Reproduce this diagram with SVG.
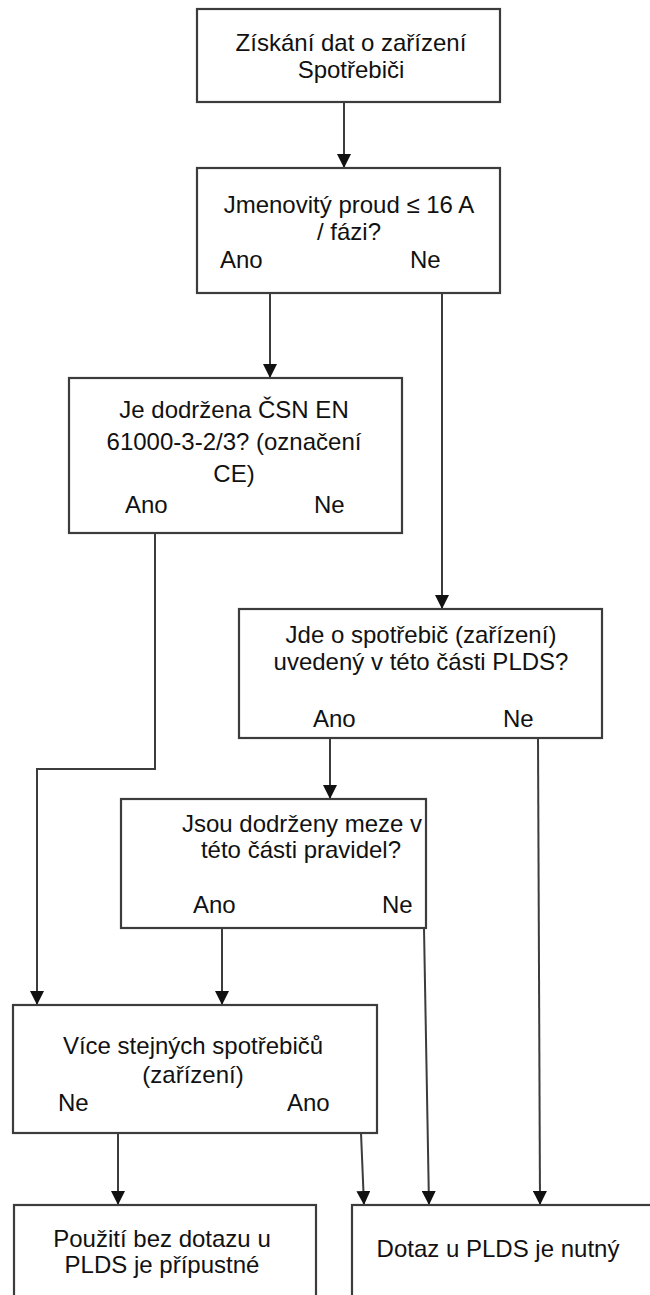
<svg xmlns="http://www.w3.org/2000/svg" width="650" height="1295" viewBox="0 0 650 1295">
<defs>
<marker id="ah" markerUnits="userSpaceOnUse" markerWidth="14" markerHeight="14" viewBox="0 0 14 14" refX="14" refY="7" orient="auto">
<path d="M0,0 L14,7 L0,14 z" fill="#111"/>
</marker>
<style>
.box{fill:#fff;stroke:#3c3c3c;stroke-width:2.2}
.t{font-family:"Liberation Sans",Arial,sans-serif;font-size:24px;fill:#111}
.c{text-anchor:middle}
.ln{fill:none;stroke:#3c3c3c;stroke-width:2;marker-end:url(#ah)}
</style>
</defs>
<rect width="650" height="1295" fill="#fff"/>
<g id="connectors">
<path class="ln" d="M344,102 L344,168"/>
<path class="ln" d="M270,293 L270,378"/>
<path class="ln" d="M442,293 L442,609"/>
<path class="ln" d="M155,533 L155,769 L37,769 L37,1005"/>
<path class="ln" d="M330,738 L330,799"/>
<path class="ln" d="M538,738 L540,1205"/>
<path class="ln" d="M222,928 L222,1005"/>
<path class="ln" d="M424,928 L429,1205"/>
<path class="ln" d="M118,1133 L118,1205"/>
<path class="ln" d="M361,1133 L364,1205"/>
</g>
<g id="n1">
<rect class="box" x="197" y="9" width="303" height="93"/>
<text class="t c" x="351" y="51">Získání dat o zařízení</text>
<text class="t c" x="351" y="78">Spotřebiči</text>
</g>
<g id="n2">
<rect class="box" x="197" y="168" width="303" height="125"/>
<text class="t c" x="349" y="213">Jmenovitý proud ≤ 16 A</text>
<text class="t c" x="349" y="240">/ fázi?</text>
<text class="t" x="220" y="268">Ano</text>
<text class="t" x="410" y="268">Ne</text>
</g>
<g id="n3">
<rect class="box" x="69" y="378" width="333" height="155"/>
<text class="t c" x="234" y="418">Je dodržena ČSN EN</text>
<text class="t c" x="234" y="450">61000-3-2/3? (označení</text>
<text class="t c" x="234" y="482">CE)</text>
<text class="t" x="125" y="513">Ano</text>
<text class="t" x="314" y="513">Ne</text>
</g>
<g id="n4">
<rect class="box" x="239" y="609" width="363" height="129"/>
<text class="t c" x="421" y="643">Jde o spotřebič (zařízení)</text>
<text class="t c" x="421" y="670">uvedený v této části PLDS?</text>
<text class="t" x="313" y="727">Ano</text>
<text class="t" x="503" y="727">Ne</text>
</g>
<g id="n5">
<rect class="box" x="121" y="799" width="305" height="129"/>
<text class="t c" x="302" y="832">Jsou dodrženy meze v</text>
<text class="t c" x="301" y="858">této části pravidel?</text>
<text class="t" x="193" y="913">Ano</text>
<text class="t" x="382" y="913">Ne</text>
</g>
<g id="n6">
<rect class="box" x="13" y="1005" width="364" height="128"/>
<text class="t c" x="193" y="1054">Více stejných spotřebičů</text>
<text class="t c" x="193" y="1083">(zařízení)</text>
<text class="t" x="58" y="1111">Ne</text>
<text class="t" x="287" y="1111">Ano</text>
</g>
<g id="n7">
<rect class="box" x="14" y="1205" width="302" height="110"/>
<text class="t c" x="162" y="1247">Použití bez dotazu u</text>
<text class="t c" x="162" y="1273">PLDS je přípustné</text>
</g>
<g id="n8">
<rect class="box" x="352" y="1205" width="320" height="110"/>
<text class="t c" x="498" y="1257">Dotaz u PLDS je nutný</text>
</g>
</svg>
